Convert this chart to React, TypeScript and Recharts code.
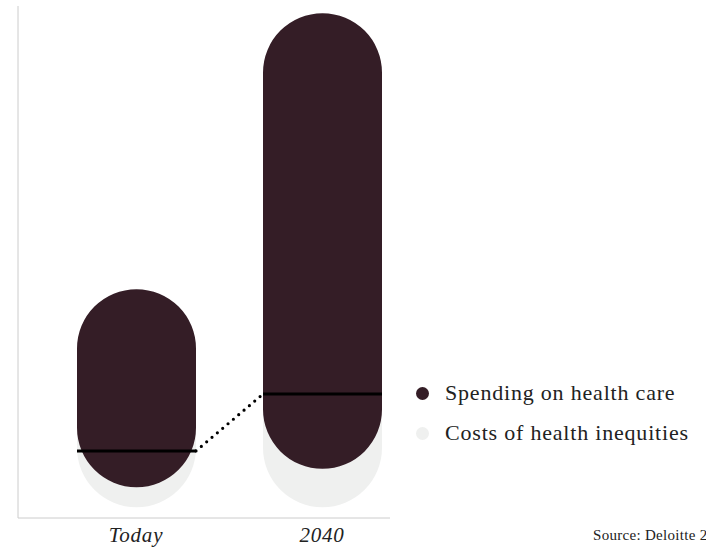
import React from 'react';
import { ComposedChart, Bar, XAxis, YAxis, Rectangle } from 'recharts';

// values in $ (chart units)
const periods = ['Today', '2040'];
const spending: [number, number][] = [[0.6, 4.47], [0.96, 9.86]];
const inequities: [number, number][] = [[0.21, 4.08], [0.21, 9.12]];
const spendingMark = [1.31, 2.42];

const legendNames = ['Spending on health care', 'Costs of health inequities'];

const DARK = '#341d26';
const GREY = '#eff0ef';
const FONT = '"Liberation Serif", "Times New Roman", serif';

const data = periods.map((p, i) => ({
  period: p,
  spending: spending[i],
  inequities: inequities[i],
  mark: spendingMark[i],
}));

// shared between the two bar shapes so the dotted join can be drawn
const joins: { x: number; y: number }[] = [];

const SpendingShape = (props: any) => {
  const { x, y, width, height, payload, index } = props;
  const [lo, hi] = payload.spending;
  const markY = y + height * ((hi - payload.mark) / (hi - lo));
  joins[index] = { x: x + width, y: markY };
  const prev = index > 0 ? joins[index - 1] : null;
  return (
    <g>
      <Rectangle x={x} y={y} width={width} height={height} radius={width / 2} fill={DARK} />
      <line x1={x} x2={x + width} y1={markY} y2={markY} stroke="#000" strokeWidth={3} />
      {prev && (
        <line
          x1={prev.x}
          y1={prev.y}
          x2={x}
          y2={markY}
          stroke="#000"
          strokeWidth={3.2}
          strokeDasharray="0 7"
          strokeLinecap="round"
        />
      )}
    </g>
  );
};

const InequityShape = (props: any) => {
  const { x, y, width, height } = props;
  return <Rectangle x={x} y={y} width={width} height={height} radius={width / 2} fill={GREY} />;
};

export default function App() {
  return (
    <div style={{ position: 'absolute', left: 0, top: 0, width: 706, height: 549, overflow: 'hidden', background: '#fff' }}>
      <ComposedChart
        width={706}
        height={549}
        data={data}
        margin={{ top: 6, right: 316, bottom: 0, left: 17 }}
        barGap={-119}
      >
        <XAxis
          dataKey="period"
          height={31}
          padding={{ left: 25, right: -25 }}
          tickLine={false}
          tickMargin={3}
          axisLine={{ stroke: '#cccccc' }}
          tick={{ fontFamily: FONT, fontStyle: 'italic', fontSize: 21, letterSpacing: 0.8, fill: '#222' }}
        />
        <YAxis type="number" domain={[0, 10]} width={1} tick={false} tickLine={false} axisLine={{ stroke: '#cccccc' }} />
        <Bar dataKey="inequities" barSize={119} shape={InequityShape} isAnimationActive={false} />
        <Bar dataKey="spending" barSize={119} shape={SpendingShape} isAnimationActive={false} />
      </ComposedChart>

      <div style={{ position: 'absolute', left: 416, top: 373, fontFamily: FONT, fontSize: 22, letterSpacing: 0.8, color: '#222' }}>
        {legendNames.map((name, i) => (
          <div key={name} style={{ display: 'flex', alignItems: 'center', height: 40 }}>
            <span
              style={{
                display: 'inline-block',
                width: 13,
                height: 13,
                borderRadius: '50%',
                background: i === 0 ? DARK : GREY,
                marginRight: 16,
              }}
            />
            <span style={{ whiteSpace: 'nowrap' }}>{name}</span>
          </div>
        ))}
      </div>

      <div style={{ position: 'absolute', left: 593, top: 527, fontFamily: FONT, fontSize: 15, letterSpacing: 0.3, color: '#222', whiteSpace: 'nowrap' }}>
        Source: Deloitte 2
      </div>
    </div>
  );
}
